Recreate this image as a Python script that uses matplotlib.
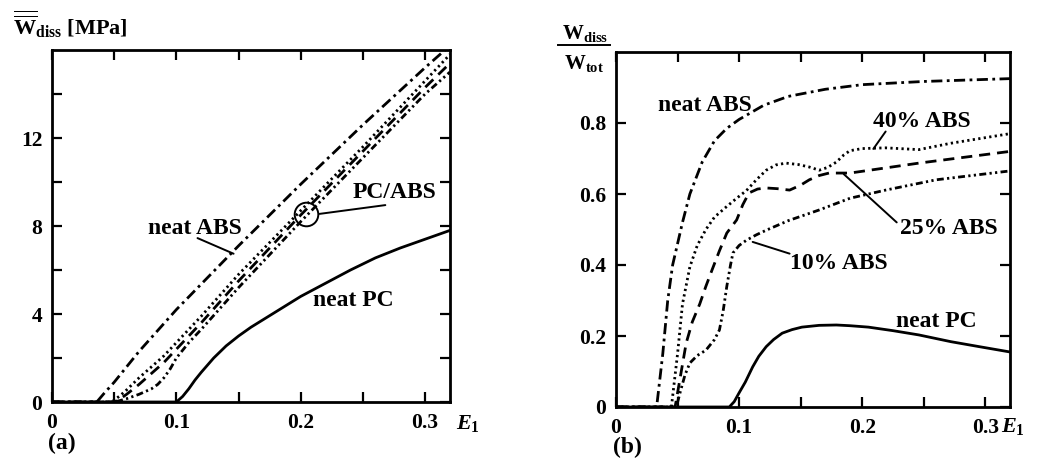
import numpy as np
import matplotlib
matplotlib.use("Agg")
import matplotlib.pyplot as plt
from matplotlib.lines import Line2D

plt.rcParams['font.family'] = ['Liberation Serif', 'DejaVu Serif']
plt.rcParams['font.weight'] = 'bold'
plt.rcParams['mathtext.fontset'] = 'custom'
plt.rcParams['mathtext.rm'] = 'Liberation Serif:bold'
plt.rcParams['mathtext.it'] = 'Liberation Serif:italic:bold'
plt.rcParams['mathtext.bf'] = 'Liberation Serif:bold'

# ---- panel (a): dissipated energy density [MPa] vs E1 ----
a_pc_x = [0.0, 0.10, 0.105, 0.11, 0.115, 0.12, 0.13, 0.14, 0.15, 0.16, 0.17, 0.18, 0.19,
          0.20, 0.22, 0.24, 0.26, 0.28, 0.30, 0.32]
a_pc_y = [0.0, 0.0, 0.25, 0.6, 1.0, 1.35, 2.0, 2.55, 3.0, 3.4, 3.75, 4.1, 4.45,
          4.8, 5.4, 6.0, 6.55, 7.0, 7.4, 7.8]

a_abs_x = [0.0, 0.036, 0.042, 0.05, 0.06, 0.07, 0.085, 0.10, 0.125, 0.15, 0.20, 0.25, 0.30, 0.316]
a_abs_y = [0.0, 0.0, 0.4, 0.9, 1.6, 2.3, 3.25, 4.2, 5.65, 7.1, 9.9, 12.6, 15.2, 16.0]

a_40_x = [0.0, 0.048, 0.055, 0.06, 0.07, 0.08, 0.09, 0.10, 0.12, 0.15, 0.20, 0.25, 0.30, 0.32]
a_40_y = [0.0, 0.0, 0.3, 0.55, 1.1, 1.6, 2.1, 2.7, 3.9, 5.8, 8.7, 11.6, 14.6, 15.8]

a_25_x = [0.0, 0.05, 0.055, 0.06, 0.07, 0.08, 0.09, 0.10, 0.12, 0.15, 0.20, 0.25, 0.30, 0.32]
a_25_y = [0.0, 0.0, 0.15, 0.35, 0.8, 1.3, 1.8, 2.4, 3.6, 5.5, 8.5, 11.4, 14.3, 15.4]

a_10_x = [0.0, 0.05, 0.055, 0.06, 0.07, 0.08, 0.085, 0.09, 0.095, 0.10, 0.11, 0.12, 0.15,
          0.20, 0.25, 0.30, 0.32]
a_10_y = [0.0, 0.0, 0.07, 0.15, 0.35, 0.6, 0.8, 1.1, 1.5, 2.0, 2.7, 3.3, 5.2,
          8.2, 11.1, 14.0, 15.0]

circle_x, circle_y = 0.204, 8.55

# ---- panel (b): W_diss / W_tot vs E1 ----
b_abs_x = [0.0, 0.033, 0.035, 0.038, 0.042, 0.046, 0.050, 0.054, 0.060, 0.070, 0.080,
           0.09, 0.10, 0.12, 0.14, 0.17, 0.20, 0.25, 0.32]
b_abs_y = [0.0, 0.0, 0.06, 0.15, 0.30, 0.40, 0.46, 0.52, 0.60, 0.69, 0.75,
           0.785, 0.81, 0.85, 0.875, 0.895, 0.908, 0.917, 0.925]

b_40_x = [0.0, 0.045, 0.050, 0.054, 0.060, 0.066, 0.073, 0.080, 0.090, 0.098, 0.106, 0.114,
          0.122, 0.130, 0.138, 0.148, 0.157, 0.165, 0.172, 0.179, 0.185, 0.190, 0.20,
          0.219, 0.246, 0.272, 0.32]
b_40_y = [0.0, 0.0, 0.15, 0.29, 0.395, 0.455, 0.50, 0.535, 0.565, 0.588, 0.61, 0.64,
          0.667, 0.682, 0.687, 0.683, 0.676, 0.667, 0.675, 0.69, 0.71, 0.722, 0.728,
          0.73, 0.725, 0.743, 0.77]

b_25_x = [0.0, 0.048, 0.052, 0.057, 0.062, 0.068, 0.073, 0.078, 0.084, 0.090, 0.098,
          0.103, 0.108, 0.115, 0.122, 0.131, 0.141, 0.150, 0.157, 0.165, 0.173, 0.190,
          0.246, 0.32]
b_25_y = [0.0, 0.0, 0.08, 0.18, 0.24, 0.29, 0.34, 0.386, 0.44, 0.49, 0.527,
          0.57, 0.603, 0.614, 0.617, 0.615, 0.611, 0.625, 0.64, 0.652, 0.659, 0.659,
          0.687, 0.72]

b_10_x = [0.0, 0.049, 0.052, 0.056, 0.060, 0.066, 0.073, 0.080, 0.084, 0.087, 0.090, 0.093,
          0.095, 0.100, 0.106, 0.114, 0.122, 0.140, 0.165, 0.190, 0.219, 0.260, 0.32]
b_10_y = [0.0, 0.0, 0.04, 0.09, 0.124, 0.145, 0.16, 0.19, 0.217, 0.27, 0.34, 0.40,
          0.434, 0.455, 0.47, 0.485, 0.498, 0.525, 0.555, 0.588, 0.611, 0.64, 0.665]

b_pc_x = [0.0, 0.092, 0.096, 0.100, 0.105, 0.111, 0.116, 0.122, 0.128, 0.135, 0.143,
          0.151, 0.165, 0.179, 0.190, 0.205, 0.225, 0.246, 0.272, 0.295, 0.32]
b_pc_y = [0.0, 0.0, 0.015, 0.04, 0.07, 0.113, 0.143, 0.17, 0.19, 0.208, 0.218,
          0.225, 0.23, 0.231, 0.229, 0.225, 0.215, 0.203, 0.184, 0.17, 0.155]

# ticks
x_ticks = [0, 0.05, 0.1, 0.15, 0.2, 0.25, 0.3]
x_ticklabels = ['0', '', '0.1', '', '0.2', '', '0.3']
a_y_ticks = [0, 2, 4, 6, 8, 10, 12, 14]
a_y_ticklabels = ['0', '', '4', '', '8', '', '12', '']
b_y_ticks = [0, 0.2, 0.4, 0.6, 0.8]
b_y_ticklabels = ['0', '0.2', '0.4', '0.6', '0.8']

LW = 2.0
sty_abs = dict(color='black', lw=LW, dashes=(4, 1.6, 1, 1.6))
sty_40 = dict(color='black', lw=LW, dashes=(0.8, 1.2))
sty_25 = dict(color='black', lw=LW, dashes=(4, 2.5))
sty_10 = dict(color='black', lw=LW, dashes=(2.5, 1.2, 0.8, 1.2, 0.8, 1.2))
sty_pc = dict(color='black', lw=LW)

fig = plt.figure(figsize=(10.54, 4.70), dpi=100)
ax1 = fig.add_axes([52/1054, (470-402)/470, 398/1054, 352/470])
ax2 = fig.add_axes([616/1054, (470-407)/470, 394/1054, 355/470])


def style_axes(ax, yticks, yticklabels, ylim):
    ax.set_xlim(0, 0.32)
    ax.set_ylim(*ylim)
    ax.set_xticks(x_ticks)
    ax.set_xticklabels(x_ticklabels)
    ax.set_yticks(yticks)
    ax.set_yticklabels(yticklabels)
    ax.tick_params(direction='in', length=7, width=1.6, labelsize=15.5,
                   top=True, right=True)
    ax.tick_params(axis='x', pad=8)
    ax.tick_params(axis='y', pad=7)
    for s in ax.spines.values():
        s.set_linewidth(2.0)


# panel (a)
ax1.plot(a_pc_x, a_pc_y, **sty_pc)
ax1.plot(a_abs_x, a_abs_y, **sty_abs)
ax1.plot(a_40_x, a_40_y, **sty_40)
ax1.plot(a_25_x, a_25_y, **sty_25)
ax1.plot(a_10_x, a_10_y, **sty_10)
ax1.plot([circle_x], [circle_y], marker='o', ms=17, mfc='none', mec='black', mew=1.4)
style_axes(ax1, a_y_ticks, a_y_ticklabels, (0, 16))

lead = dict(arrowstyle='-', lw=1.4, color='black', shrinkA=0, shrinkB=0)
ax1.text(0.115, 7.9, 'neat ABS', fontsize=17, ha='center', va='center')
ax1.annotate('', xy=(0.146, 6.74), xytext=(0.117, 7.45), arrowprops=lead)
ax1.text(0.275, 9.5, 'PC/ABS', fontsize=17, ha='center', va='center')
ax1.annotate('', xy=(0.215, 8.55), xytext=(0.268, 8.95), arrowprops=lead)
ax1.text(0.242, 4.6, 'neat PC', fontsize=17, ha='center', va='center')
ax1.text(1.015, -0.06, '$E_1$', transform=ax1.transAxes, fontsize=16,
         ha='left', va='center')

# panel (b)
ax2.plot(b_pc_x, b_pc_y, **sty_pc)
ax2.plot(b_abs_x, b_abs_y, **sty_abs)
ax2.plot(b_40_x, b_40_y, **sty_40)
ax2.plot(b_25_x, b_25_y, **sty_25)
ax2.plot(b_10_x, b_10_y, **sty_10)
style_axes(ax2, b_y_ticks, b_y_ticklabels, (0, 1.0))

ax2.text(0.072, 0.85, 'neat ABS', fontsize=17, ha='center', va='center')
ax2.text(0.248, 0.803, '40% ABS', fontsize=17, ha='center', va='center')
ax2.annotate('', xy=(0.209, 0.727), xytext=(0.219, 0.776), arrowprops=lead)
ax2.text(0.27, 0.504, '25% ABS', fontsize=17, ha='center', va='center')
ax2.annotate('', xy=(0.185, 0.656), xytext=(0.228, 0.52), arrowprops=lead)
ax2.text(0.181, 0.405, '10% ABS', fontsize=17, ha='center', va='center')
ax2.annotate('', xy=(0.111, 0.465), xytext=(0.141, 0.432), arrowprops=lead)
ax2.text(0.26, 0.24, 'neat PC', fontsize=17, ha='center', va='center')
ax2.text(1.008, -0.056, '$E_1$', transform=ax2.transAxes, fontsize=16,
         ha='center', va='center')

# axis titles
fig.text(13/1054, 1 - 35/470, r'$\overline{\overline{\mathrm{W}}}_{\mathrm{diss}}$ [MPa]',
         fontsize=16, ha='left', va='baseline')
fig.text(585/1054, 1 - 34/470, r'W$_{\mathrm{diss}}$', fontsize=15, ha='center', va='center')
fig.add_artist(Line2D([558/1054, 610/1054], [1 - 45/470, 1 - 45/470],
                      color='black', lw=1.4, transform=fig.transFigure))
fig.text(584/1054, 1 - 64/470, r'W$_{\mathrm{tot}}$', fontsize=15, ha='center', va='center')

fig.text(62/1054, 1 - 443/470, '(a)', fontsize=17, ha='center', va='center')
fig.text(627/1054, 1 - 447/470, '(b)', fontsize=17, ha='center', va='center')

fig.savefig('out.png', dpi=100)
